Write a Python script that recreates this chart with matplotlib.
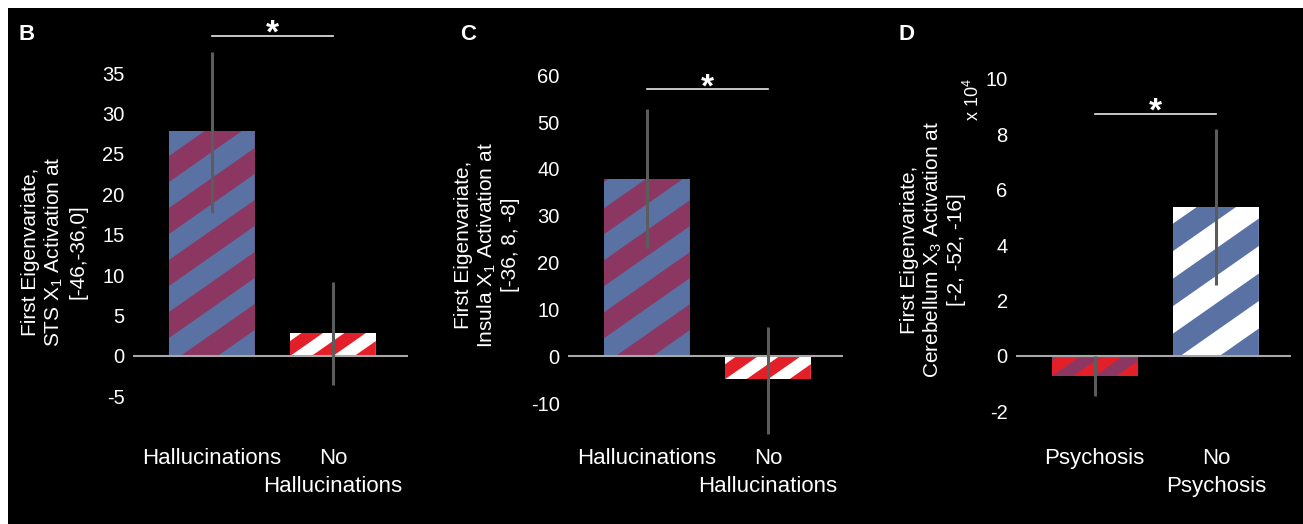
import matplotlib
matplotlib.use('Agg')
import matplotlib.pyplot as plt
from matplotlib.patches import Polygon, Rectangle
from matplotlib.transforms import IdentityTransform

plt.rcParams['font.family'] = ['Liberation Sans', 'DejaVu Sans']
plt.rcParams['axes.unicode_minus'] = False

# ---- data ----
# B : STS
groups_b = ['Hallucinations', 'No\nHallucinations']
mean_b = [27.8, 2.85]
err_lo_b = [17.7, -3.6]
err_hi_b = [37.6, 9.2]
ticks_b = [-5, 0, 5, 10, 15, 20, 25, 30, 35]
sig_b = 39.6

# C : insula
groups_c = ['Hallucinations', 'No\nHallucinations']
mean_c = [37.8, -4.9]
err_lo_c = [23.1, -16.7]
err_hi_c = [52.8, 6.2]
ticks_c = [-10, 0, 10, 20, 30, 40, 50, 60]
sig_c = 57.0

# D : cerebellum (x 10^4)
groups_d = ['Psychosis', 'No\nPsychosis']
mean_d = [-0.72, 5.38]
err_lo_d = [-1.44, 2.56]
err_hi_d = [0.0, 8.2]
ticks_d = [-2, 0, 2, 4, 6, 8, 10]
sig_d = 8.74

# colours
blue = '#5a72a3'
maroon = '#8b3762'
red = '#e3202a'
white = '#ffffff'
W, H = 1303, 524


def px_box(left, top, width, height):
    # pixel box (from top-left) -> figure fraction
    return [left / W, 1 - (top + height) / H, width / W, height / H]


def stripe_bar(ax, bar, base, stripe, period, slope=0.7):
    bar.set_facecolor(base)
    bb = bar.get_window_extent()
    x0, x1, y0, y1 = bb.x0, bb.x1, bb.y0, bb.y1
    c = y0 - slope * x1 - period
    while c < y1 - slope * x0:
        pts = [(x0, slope * x0 + c), (x1, slope * x1 + c),
               (x1, slope * x1 + c + period / 2), (x0, slope * x0 + c + period / 2)]
        p = Polygon(pts, closed=True, facecolor=stripe, edgecolor='none',
                    transform=IdentityTransform(), zorder=2)
        ax.add_patch(p)
        p.set_clip_path(bar)
        c += period


fig = plt.figure(figsize=(W / 100, H / 100), dpi=100, facecolor='white')
fig.patches.append(Rectangle((8 / W, 0), 1, 1 - 8 / H, transform=fig.transFigure,
                             facecolor='black', edgecolor='none', zorder=-10))

panels = [
    dict(letter='B', left=133, ylim=(-10.4, 42.2), groups=groups_b, mean=mean_b,
         lo=err_lo_b, hi=err_hi_b, ticks=ticks_b, sig=sig_b,
         colors=[(maroon, blue, 52), (white, red, 30)], lx=19, ylab_xy=(54, 252),
         ylabel='First Eigenvariate,\nSTS $\\mathregular{X_1}$ Activation at\n[-46,-36,0]'),
    dict(letter='C', left=568, ylim=(-17.9, 72.9), groups=groups_c, mean=mean_c,
         lo=err_lo_c, hi=err_hi_c, ticks=ticks_c, sig=sig_c,
         colors=[(maroon, blue, 52), (white, red, 30)], lx=460, ylab_xy=(487, 245),
         ylabel='First Eigenvariate,\nInsula $\\mathregular{X_1}$ Activation at\n[-36, 8, -8]'),
    dict(letter='D', left=1016, ylim=(-3.03, 12.3), groups=groups_d, mean=mean_d,
         lo=err_lo_d, hi=err_hi_d, ticks=ticks_d, sig=sig_d,
         colors=[(maroon, red, 30), (white, blue, 55)], lx=899, ylab_xy=(933, 250),
         ylabel='First Eigenvariate,\nCerebellum $\\mathregular{X_3}$ Activation at\n[-2, -52, -16]'),
]

for pan in panels:
    ax = fig.add_axes(px_box(pan['left'], 15, 275, 425))
    ax.set_facecolor('none')
    ax.set_xlim(-0.65, 1.62)
    ax.set_ylim(*pan['ylim'])
    for s in ax.spines.values():
        s.set_visible(False)

    xs = range(len(pan['mean']))
    bars = ax.bar(xs, pan['mean'], width=0.71, edgecolor='none', zorder=1)
    for bar, (base, stripe, period) in zip(bars, pan['colors']):
        stripe_bar(ax, bar, base, stripe, period)

    ax.axhline(0, color='#a8a8a8', lw=1.5, zorder=3)
    ax.vlines(xs, pan['lo'], pan['hi'], color='#5c5c5c', lw=2.2, zorder=4)

    ax.plot([0, 1], [pan['sig'], pan['sig']], color='#e8e8e8', lw=1.2,
            clip_on=False, zorder=5)
    ax.annotate('*', xy=(0.5, pan['sig']), xytext=(0, -5), textcoords='offset points',
                ha='center', va='baseline', color='white', fontsize=24,
                fontweight='bold', annotation_clip=False)

    ax.set_yticks(pan['ticks'])
    ax.set_yticklabels([str(t) for t in pan['ticks']])
    ax.tick_params(axis='y', length=0, pad=6, labelsize=14.5, labelcolor='white')

    # group names: first line as tick label, the rest written just below
    ax.set_xticks(list(xs))
    ax.set_xticklabels([g.split('\n')[0] for g in pan['groups']])
    ax.tick_params(axis='x', length=0, pad=6, labelsize=16, labelcolor='white')
    for i, g in enumerate(pan['groups']):
        rest = g.split('\n')[1:]
        if rest:
            ax.annotate('\n'.join(rest), xy=(i, 0), xycoords=('data', 'axes fraction'),
                        xytext=(0, -26), textcoords='offset points', ha='center',
                        va='top', color='white', fontsize=16, annotation_clip=False)

    fig.text(pan['lx'] / W, 1 - 35 / H, pan['letter'], color='white', fontsize=16,
             fontweight='bold', ha='left', va='center')
    yx, yy = pan['ylab_xy']
    fig.text(yx / W, 1 - yy / H, pan['ylabel'], color='white', fontsize=15,
             rotation=90, ha='center', va='center', multialignment='center',
             linespacing=1.2)

fig.text(973 / W, 1 - 100 / H, 'x 10$^{\\mathregular{4}}$', color='white', fontsize=13,
         rotation=90, ha='center', va='center')

fig.savefig('out.png', dpi=100, facecolor=fig.get_facecolor())
